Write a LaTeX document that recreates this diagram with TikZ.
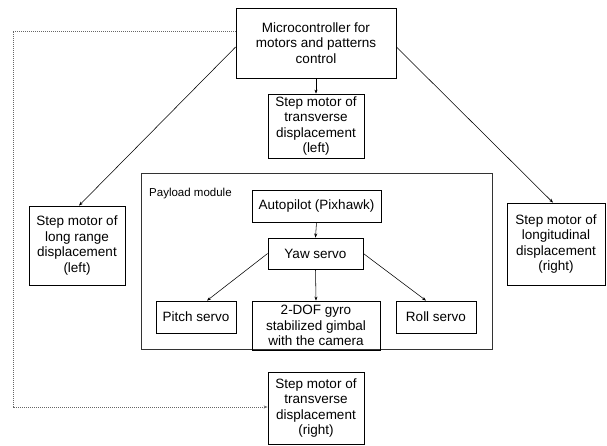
\documentclass[tikz,border=0pt]{standalone}
\usepackage{fontspec}
\setmainfont{Liberation Sans}
\usetikzlibrary{arrows.meta}
\begin{document}
\begin{tikzpicture}[x=1pt,y=-1pt,
  box/.style={draw=black,line width=0.8pt,align=center,inner sep=1pt,
    font=\fontsize{13.5}{15.5}\selectfont},
  arr/.style={line width=0.55pt,-{Stealth[length=4pt,width=3pt]}},
  dotarr/.style={line width=0.5pt,draw=black!60,dash pattern=on 1pt off 1pt,-{Stealth[length=4pt,width=3pt,open]}}]
\useasboundingbox (0,0) rectangle (607,445);
% payload module frame
\node[draw=black!80,line width=0.8pt,minimum width=351pt,minimum height=176pt,inner sep=0pt] (payload) at (316.5,261) {};
\node[anchor=west,inner sep=0pt,font=\fontsize{11.5}{13}\selectfont] (plabel) at (149,194) {Payload module};
% boxes
\node[box,minimum width=160pt,minimum height=70pt] (micro) at (316,43) {Microcontroller for\\motors and patterns\\control};
\node[box,minimum width=96pt,minimum height=64pt] (tl) at (316,126) {Step motor of\\transverse\\displacement\\(left)};
\node[box,minimum width=96pt,minimum height=79pt] (lr) at (77,245.5) {Step motor of\\long range\\displacement\\(left)};
\node[box,minimum width=98pt,minimum height=82pt] (lg) at (556,244) {Step motor of\\longitudinal\\displacement\\(right)};
\node[box,minimum width=129pt,minimum height=32pt] (auto) at (316.5,206) {Autopilot (Pixhawk)};
\node[box,minimum width=95pt,minimum height=31pt] (yaw) at (315.5,253.5) {Yaw servo};
\node[box,minimum width=80pt,minimum height=32pt] (pitch) at (196,317) {Pitch servo};
\node[box,minimum width=128pt,minimum height=49pt] (gimbal) at (316,325.5) {2-DOF gyro\\stabilized gimbal\\with the camera};
\node[box,minimum width=80pt,minimum height=32pt] (roll) at (436,317) {Roll servo};
\node[box,minimum width=96pt,minimum height=72pt] (tr) at (316,408) {Step motor of\\transverse\\displacement\\(right)};
% connectors
\draw[arr] (micro.south) -- (tl.north);
\draw[arr] ([yshift=-4pt]micro.west) -- ([xshift=2pt]lr.north);
\draw[arr] ([yshift=-4pt]micro.east) -- ([xshift=-3pt]lg.north);
\coordinate (c1) at (13,31);
\coordinate (c2) at (13,407);
\draw[dotarr] ([yshift=12pt]micro.west) -- (c1) -- (c2) -- (c2 -| tr.west);
\draw[arr] (auto.south) -- (yaw.north);
\draw[arr] (yaw.west) -- ([xshift=11pt]pitch.north);
\draw[arr] (yaw.south) -- (gimbal.north);
\draw[arr] (yaw.east) -- ([xshift=-10pt]roll.north);
\end{tikzpicture}
\end{document}
